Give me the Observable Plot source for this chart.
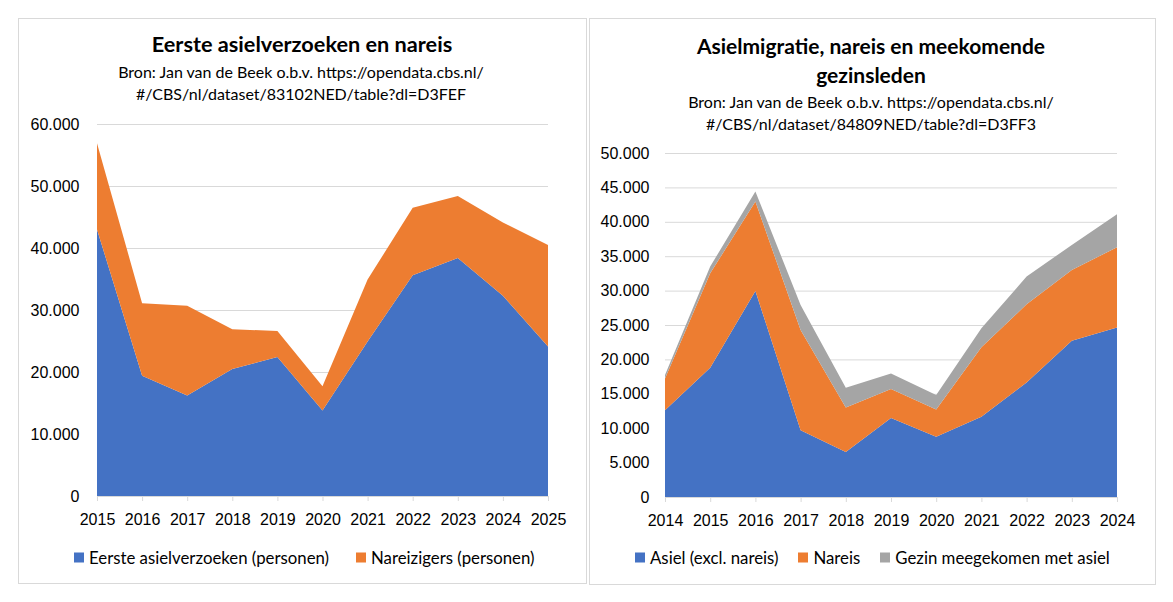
<!DOCTYPE html>
<html>
<head>
<meta charset="utf-8">
<script src="https://cdn.jsdelivr.net/npm/d3@7"></script>
<script src="https://cdn.jsdelivr.net/npm/@observablehq/plot@0.6"></script>
<style>
  html, body { margin: 0; padding: 0; background: #fff; }
  body { width: 1173px; height: 602px; position: relative; overflow: hidden; font-family: Lato, "Open Sans", sans-serif; color: #000; }
  .panel { position: absolute; border: 1px solid #d9d9d9; box-sizing: border-box; background: #fff; }
  .txt { position: absolute; transform: translate(-50%, -50%); white-space: nowrap; text-align: center; }
  .title { font-size: 21px; font-weight: bold; }
  .sub { font-size: 16px; }
  .plot { position: absolute; }
  .legend { position: absolute; display: flex; align-items: center; font-size: 16.8px; white-space: nowrap; transform: translateY(-50%); }
  .legend .sw { width: 10px; height: 10px; display: inline-block; margin-right: 5px; }
  .legend .item { display: flex; align-items: center; }
</style>
</head>
<body>
<div class="panel" style="left:18px; top:18px; width:569px; height:566px;"></div>
<div class="panel" style="left:589px; top:18px; width:567px; height:567px;"></div>

<div class="txt title" style="left:302px; top:44px; font-size:21.7px;">Eerste asielverzoeken en nareis</div>
<div class="txt sub" style="left:301px; top:71px;">Bron: Jan van de Beek o.b.v. https://opendata.cbs.nl/</div>
<div class="txt sub" style="left:301px; top:93px;">#/CBS/nl/dataset/83102NED/table?dl=D3FEF</div>

<div class="txt title" style="left:871px; top:45px;">Asielmigratie, nareis en meekomende</div>
<div class="txt title" style="left:871px; top:74px;">gezinsleden</div>
<div class="txt sub" style="left:871px; top:101px;">Bron: Jan van de Beek o.b.v. https://opendata.cbs.nl/</div>
<div class="txt sub" style="left:871px; top:123px;">#/CBS/nl/dataset/84809NED/table?dl=D3FF3</div>

<div id="plotL" class="plot" style="left:18px; top:100px;"></div>
<div id="plotR" class="plot" style="left:589px; top:130px;"></div>

<div id="legL" class="legend" style="left:74px; top:557px;"></div>
<div id="legR" class="legend" style="left:635px; top:557px;"></div>

<script>
// ---- Data: left chart ----
const yearsLeft = [2015, 2016, 2017, 2018, 2019, 2020, 2021, 2022, 2023, 2024, 2025];
const eersteAsielverzoeken = [43000, 19400, 16200, 20500, 22400, 13800, 24900, 35600, 38400, 32300, 24100];
const nareizigers = [13900, 11700, 14500, 6400, 4200, 3900, 10000, 10900, 10000, 11800, 16400];
const seriesLeft = ["Eerste asielverzoeken (personen)", "Nareizigers (personen)"];
const yTicksLeft = [0, 10000, 20000, 30000, 40000, 50000, 60000];

// ---- Data: right chart ----
const yearsRight = [2014, 2015, 2016, 2017, 2018, 2019, 2020, 2021, 2022, 2023, 2024];
const asielExclNareis = [12600, 18800, 29950, 9700, 6550, 11500, 8750, 11650, 16650, 22700, 24650];
const nareis = [4630, 13720, 13010, 14560, 6460, 4180, 3970, 10100, 11360, 10300, 11650];
const gezinMeegekomen = [490, 970, 1460, 3640, 2860, 2280, 2090, 2770, 4030, 3640, 4810];
const seriesRight = ["Asiel (excl. nareis)", "Nareis", "Gezin meegekomen met asiel"];
const yTicksRight = [0, 5000, 10000, 15000, 20000, 25000, 30000, 35000, 40000, 45000, 50000];

const colors = ["#4472C4", "#ED7D31", "#A5A5A5"];

const nl = d3.formatLocale({decimal: ",", thousands: ".", grouping: [3], currency: ["€", ""]});
const fmt = nl.format(",.0f");

function makeChart(years, seriesVals, names, yTicks, dims) {
  const data = [];
  seriesVals.forEach((vals, i) => vals.forEach((v, j) => data.push({year: years[j], value: v, series: names[i]})));
  return Plot.plot({
    width: dims.width,
    height: dims.height,
    marginLeft: dims.ml,
    marginRight: dims.mr,
    marginTop: dims.mt,
    marginBottom: dims.mb,
    style: {fontFamily: "'Liberation Sans', Arial, sans-serif", fontSize: "16px", color: "#000", background: "transparent", overflow: "visible"},
    x: {domain: [years[0], years[years.length - 1]], label: null},
    y: {domain: [0, yTicks[yTicks.length - 1]], label: null},
    color: {domain: names, range: colors.slice(0, names.length)},
    marks: [
      Plot.gridY(yTicks, {stroke: "#d9d9d9", strokeOpacity: 1}),
      Plot.areaY(data, {x: "year", y: "value", fill: "series", z: "series"}),
      Plot.axisY(yTicks, {tickSize: 0, tickPadding: dims.yPad, tickFormat: fmt, label: null}),
      Plot.axisX(years, {tickSize: 5, tickPadding: 12, tickFormat: d => String(d), stroke: "#d9d9d9", strokeOpacity: 1, label: null})
    ]
  });
}

document.getElementById("plotL").appendChild(
  makeChart(yearsLeft, [eersteAsielverzoeken, nareizigers], seriesLeft, yTicksLeft,
    {width: 568, height: 440, ml: 79, mr: 38, mt: 24, mb: 44, yPad: 18})
);
document.getElementById("plotR").appendChild(
  makeChart(yearsRight, [asielExclNareis, nareis, gezinMeegekomen], seriesRight, yTicksRight,
    {width: 567, height: 410, ml: 76, mr: 39, mt: 23, mb: 43, yPad: 16})
);

function legend(id, names, gap) {
  const el = document.getElementById(id);
  names.forEach((n, i) => {
    const item = document.createElement("span");
    item.className = "item";
    if (i < names.length - 1) item.style.marginRight = gap + "px";
    const sw = document.createElement("span");
    sw.className = "sw";
    sw.style.background = colors[i];
    item.appendChild(sw);
    item.appendChild(document.createTextNode(n));
    el.appendChild(item);
  });
}
legend("legL", seriesLeft, 27);
legend("legR", seriesRight, 20);
</script>
</body>
</html>
